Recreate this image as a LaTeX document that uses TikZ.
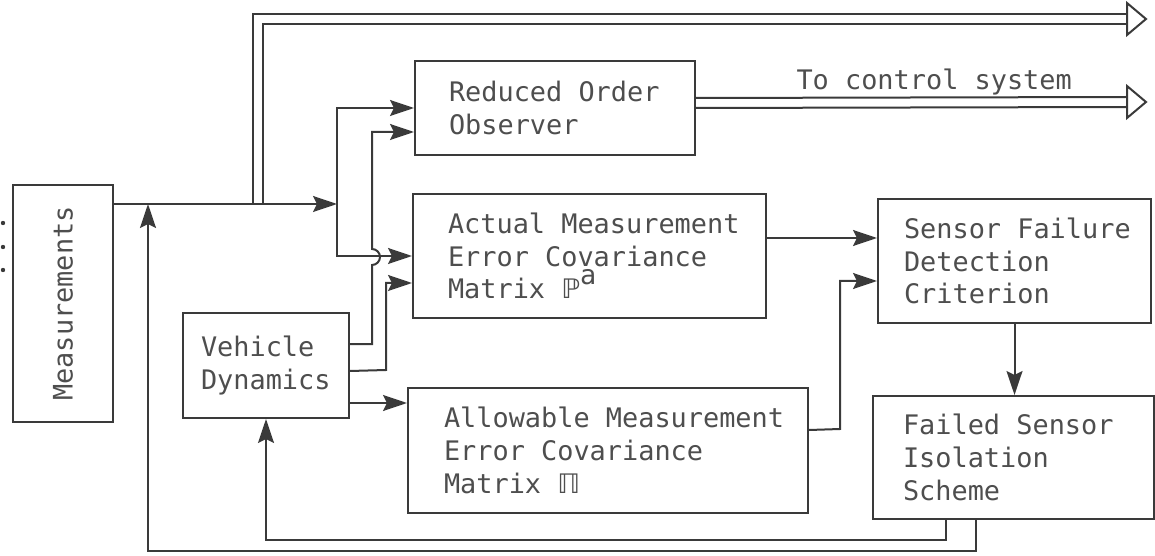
\documentclass[tikz,border=0pt]{standalone}
\usepackage{fontspec}
\usetikzlibrary{arrows.meta,calc}
\newfontfamily\boxfont{DejaVu Sans Mono}
\newfontfamily\dsfont{DejaVu Sans}
\definecolor{ink}{HTML}{3A3A3A}
\definecolor{txt}{HTML}{4E4E4E}
% one unbroken line of text with full-width monospace word spaces
\newcommand\mline[1]{\mbox{\spaceskip=0pt\xspaceskip=0pt\relax #1}}

\begin{document}
\begin{tikzpicture}[x=1bp, y=-1bp,
  every node/.style={font={\boxfont\fontsize{27}{33}\selectfont}, text=txt},
  box/.style={draw=ink, line width=2bp, align=left, anchor=north west, inner ysep=0pt},
  wire/.style={draw=ink, line width=2bp},
  arr/.style={wire, -{Stealth[length=24bp, width=16bp, inset=4bp]}},
  busend/.style={draw=ink, line width=2bp, line join=miter}]

\useasboundingbox (0,0) rectangle (1155,556);

% ---------------- blocks ----------------
\node[draw=ink, line width=2bp, rotate=90, minimum width=237bp, minimum height=100bp, inner sep=0pt]
  (meas) at (63,303.5) {Measurements};

\node[box, inner xsep=34bp, text width=212bp, minimum height=94bp] (roo) at (414,60)
  {\mline{Reduced Order}\\Observer};

\node[box, inner xsep=35bp, text width=283bp, minimum height=124bp] (act) at (412,193)
  {\mline{Actual Measurement}\\\mline{Error Covariance}\\\mline{Matrix {\dsfont ℙ}\raisebox{14bp}{a}}};

\node[box, inner xsep=36bp, text width=328bp, minimum height=125bp] (allow) at (407,387)
  {\mline{Allowable Measurement}\\\mline{Error Covariance}\\\mline{Matrix {\dsfont ℿ}}};

\node[box, inner xsep=18bp, text width=130bp, minimum height=105bp] (vd) at (182,312)
  {Vehicle\\Dynamics};

\node[box, inner xsep=26bp, text width=221bp, minimum height=124bp] (sfdc) at (877,198)
  {\mline{Sensor Failure}\\Detection\\Criterion};

\node[box, inner xsep=30bp, text width=221bp, minimum height=123bp] (fsis) at (872,395)
  {\mline{Failed Sensor}\\Isolation\\Scheme};

\node[anchor=base west] (ctl) at (793,90) {To control system};

% leading dots beside the measurement block
\foreach \yy in {223,247,270} \fill[ink] (3,\yy) circle (2.2);

% ---------------- junctions and bends ----------------
\coordinate (mj) at (337,204);   % split of the measurement line
\coordinate (fb) at (148,204);   % feedback joins the measurement line
\coordinate (t1) at (253,204);
\coordinate (t2) at (263,204);
\coordinate (o1) at (1127,19);   % upper bus arrow
\coordinate (o2) at (1127,102);  % control-system bus arrow
\coordinate (d0) at ($(vd.east)+(0,37.5)$);
\coordinate (a0) at ($(act.east)+(0,-18)$);
\coordinate (b0) at ($(allow.east)+(0,-20.5)$);
\coordinate (f1) at (946,540);
\coordinate (f2) at (976,551);

% ---------------- connectors ----------------
\draw[arr] (meas.south |- mj) -- (mj);
\draw[arr] (mj) |- (roo.west);
\draw[arr] (mj) |- (act.west);

% vehicle dynamics to observer, hopping over the measurement branch
\draw[arr] ($(vd.east)+(0,-21.5)$) -| (372,265)
  arc[start angle=90, end angle=-90, radius=8] |- ($(roo.west)+(0,24)$);
\draw[arr] ($(vd.east)+(0,5.5)$) -- (386,370) |- ($(act.west)+(0,27)$);
\draw[arr] (d0) -- (d0 -| allow.west);

% into the failure detection criterion
\draw[arr] (a0) -- (a0 -| sfdc.west);
\draw[arr] (b0) -- (840,429) |- ($(sfdc.west)+(0,20)$);
\draw[arr] (sfdc.south) -- (sfdc.south |- fsis.north);

% feedback from the isolation scheme
\draw[arr] (fsis.south -| f1) -- (f1) -| (vd.south);
\draw[arr] (fsis.south -| f2) -- (f2) -| (fb);

% upper double bus
\draw[wire] (t1) |- ($(o1)+(0,-5)$);
\draw[wire] (t2) |- ($(o1)+(0,5)$);
\draw[busend] ($(o1)+(0,-16)$) -- ($(o1)+(19,0)$) -- ($(o1)+(0,16)$) -- cycle;

% observer output bus to the control system
\draw[wire] ($(roo.east)+(0,-10)$) -- ($(o2)+(0,-5)$);
\draw[wire] (roo.east) -- ($(o2)+(0,5)$);
\draw[busend] ($(o2)+(0,-16)$) -- ($(o2)+(19,0)$) -- ($(o2)+(0,16)$) -- cycle;

\end{tikzpicture}
\end{document}
